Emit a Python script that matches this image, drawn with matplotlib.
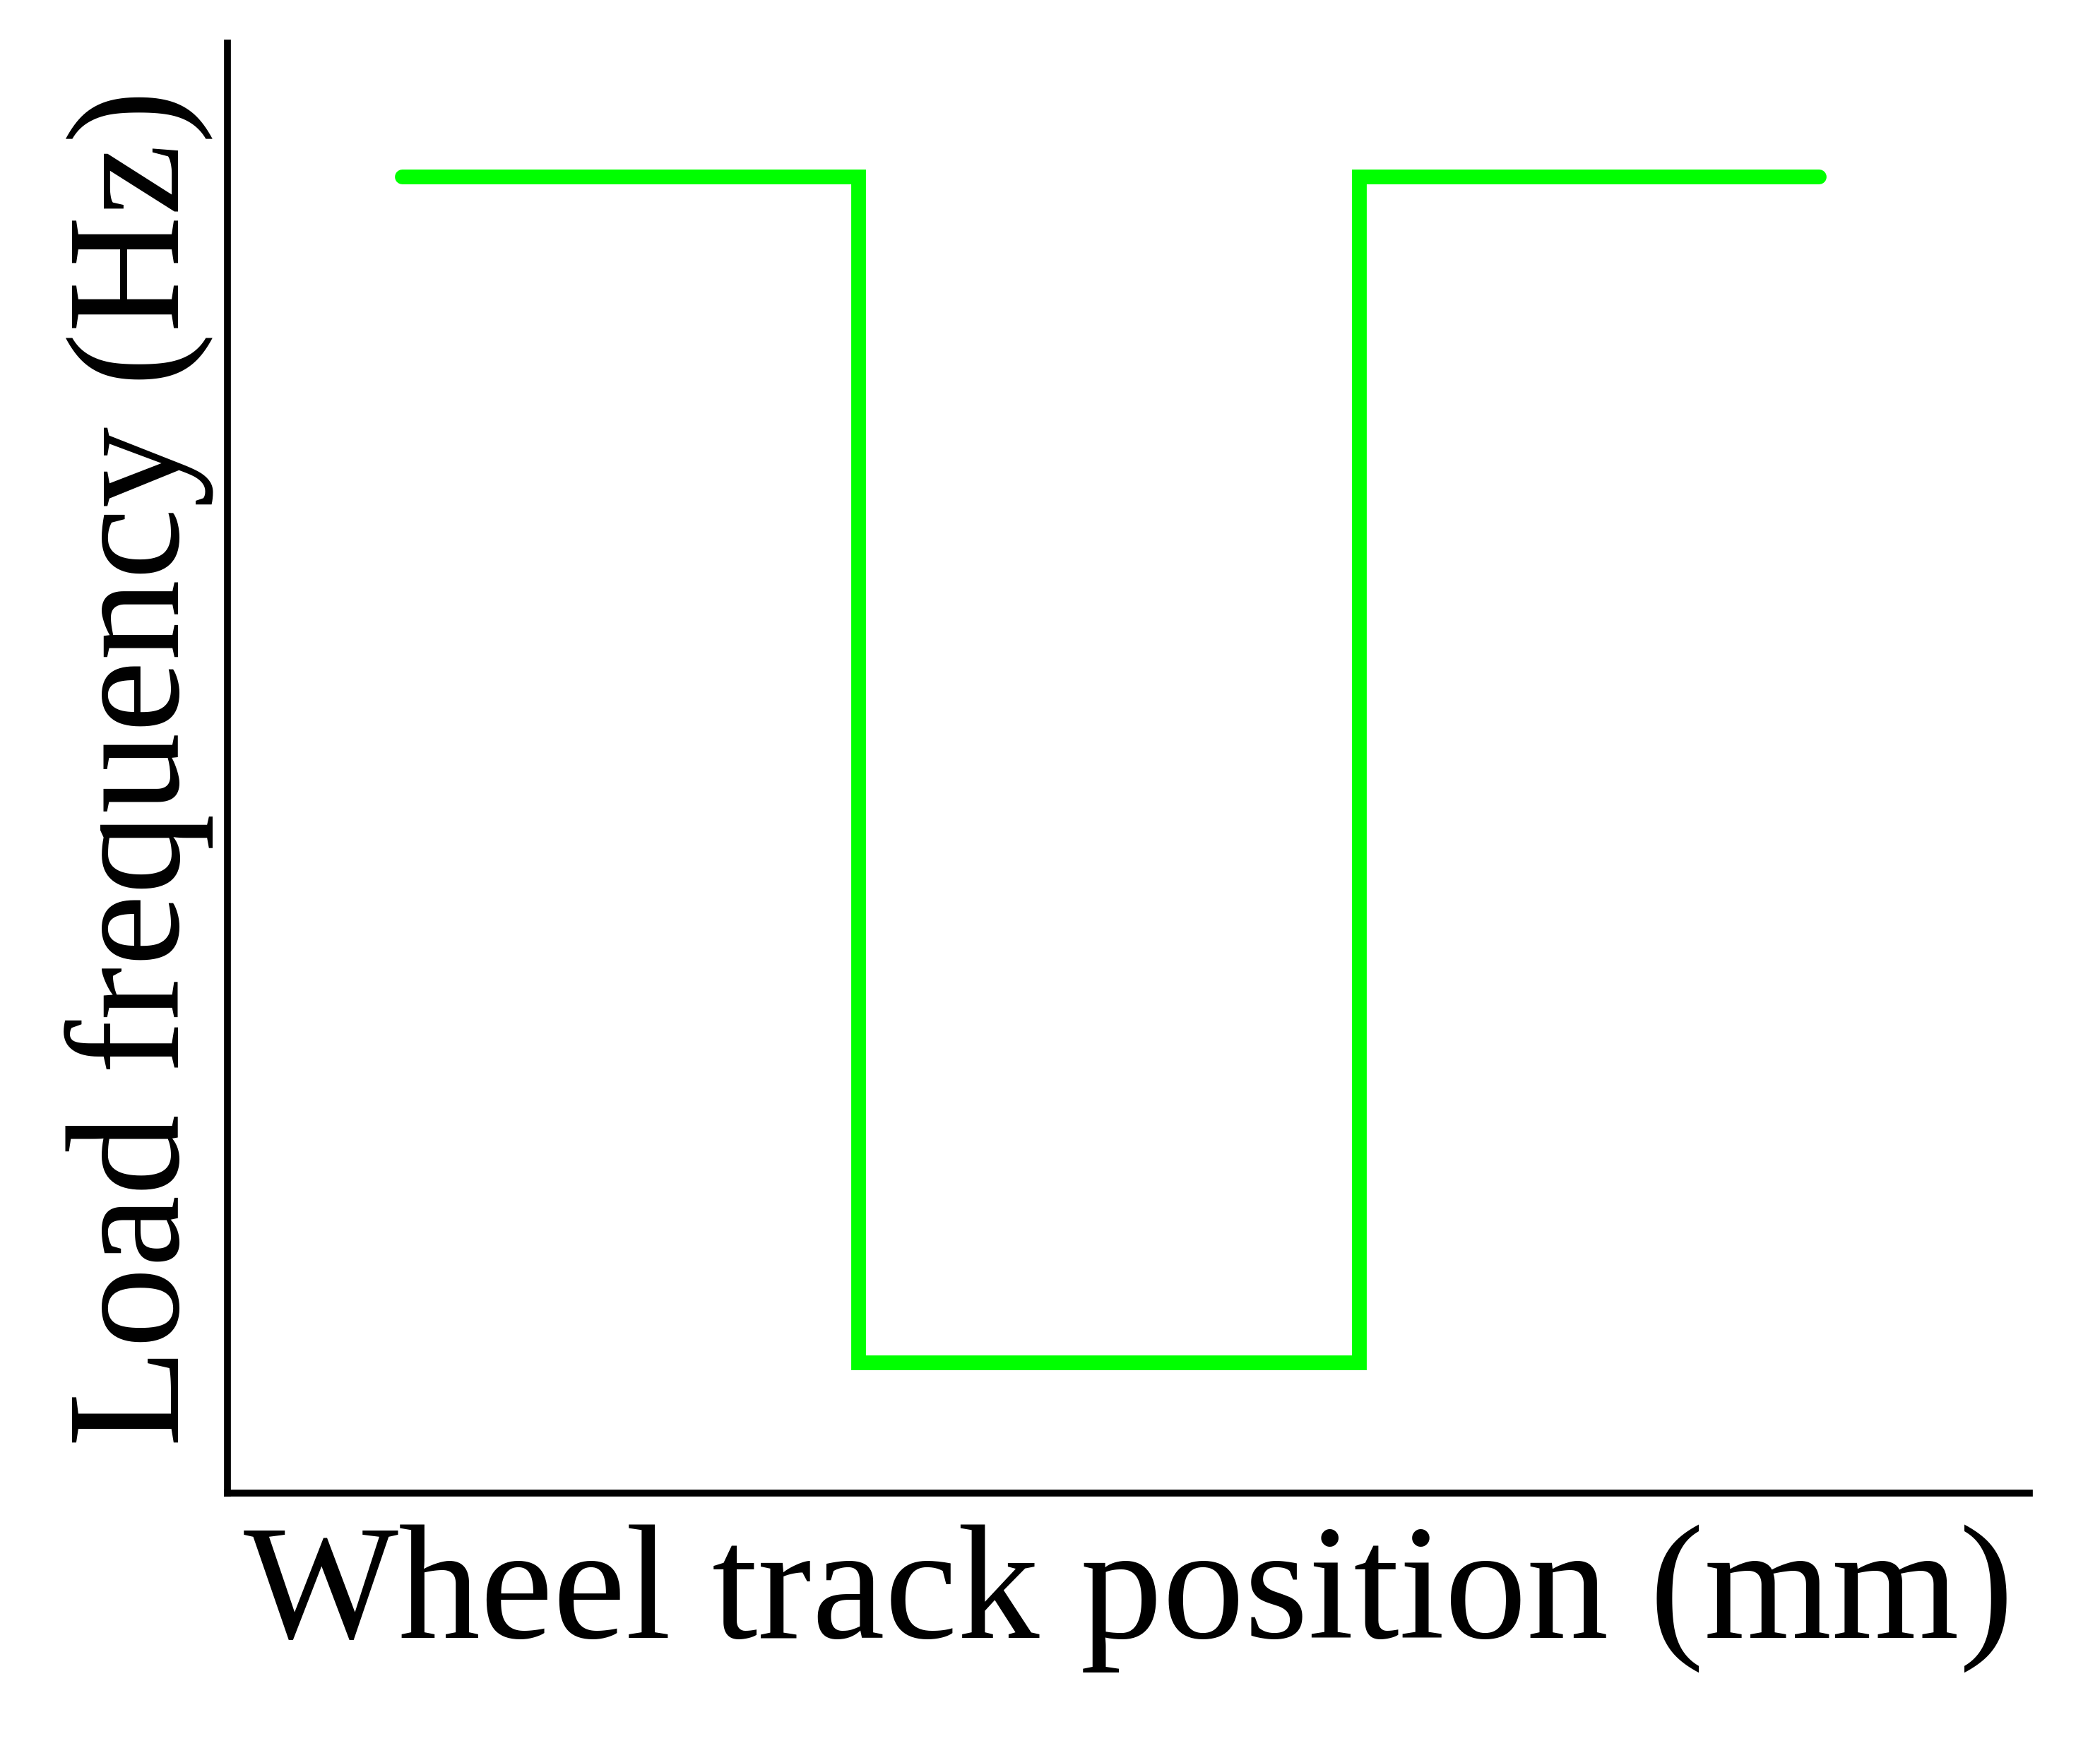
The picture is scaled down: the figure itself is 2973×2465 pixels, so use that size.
import matplotlib
matplotlib.use("Agg")
import matplotlib.pyplot as plt

# step profile of load frequency along the wheel track (arbitrary units, no ticks shown)
track_pos = [9.7, 35.0, 35.0, 62.8, 62.8, 88.3]
load_freq = [90.8, 90.8, 9.0, 9.0, 90.8, 90.8]

x_label = "Wheel track position (mm)"
y_label = "Load frequency (Hz)"

plt.rcParams["font.family"] = ["Liberation Serif", "DejaVu Serif"]

fig = plt.figure(figsize=(29.73, 24.65), dpi=100)
ax = fig.add_axes([0.1083, 0.1424, 0.8581, 0.8329])

ax.plot(track_pos, load_freq, color="#00ff00", linewidth=15,
        solid_capstyle="round", solid_joinstyle="miter")

ax.set_xlim(0, 100)
ax.set_ylim(0, 100)
ax.set_xticks([])
ax.set_yticks([])

for side in ["top", "right"]:
    ax.spines[side].set_visible(False)
for side in ["left", "bottom"]:
    ax.spines[side].set_linewidth(7)
    ax.spines[side].set_color("black")

ax.set_xlabel(x_label, fontsize=167, labelpad=32)
ax.set_ylabel(y_label, fontsize=165, labelpad=14)

fig.savefig("out.png", dpi=100, facecolor="white")
